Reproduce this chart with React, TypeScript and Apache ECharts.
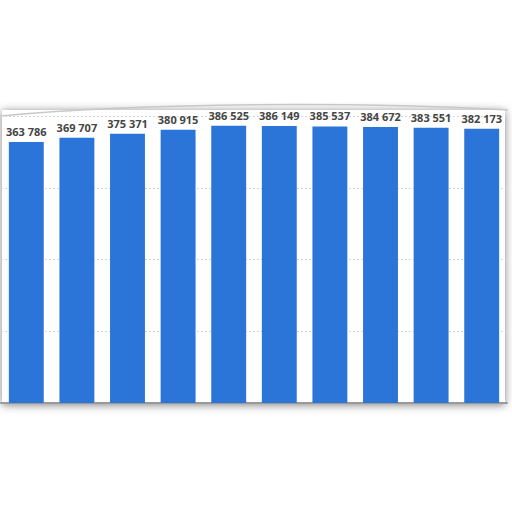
import * as echarts from 'echarts';
import React, { useEffect, useRef } from 'react';

const categories = ['1', '2', '3', '4', '5', '6', '7', '8', '9', '10'];
const values = [363786, 369707, 375371, 380915, 386525, 386149, 385537, 384672, 383551, 382173];
const yTicks = [0, 100000, 200000, 300000, 400000];

const fmt = (v: number) => String(v).replace(/\B(?=(\d{3})+(?!\d))/g, ' ');

const App: React.FC = () => {
  const chartRef = useRef<HTMLDivElement>(null);

  useEffect(() => {
    if (!chartRef.current) return;
    const chart = echarts.init(chartRef.current, undefined, { renderer: 'svg' });

    const option: echarts.EChartsOption = {
      animation: false,
      backgroundColor: '#fff',
      graphic: [
        {
          type: 'rect',
          z: -10,
          shape: { x: 2, y: 110, width: 503, height: 294 },
          style: { fill: '#fff', shadowBlur: 9, shadowColor: 'rgba(0,0,0,0.5)', shadowOffsetX: 0, shadowOffsetY: 1 },
        },
        {
          type: 'bezierCurve',
          z: -9,
          shape: { x1: 0, y1: 116, cpx1: 150, cpy1: 102, cpx2: 360, cpy2: 102, x2: 508, y2: 110 },
          style: { stroke: '#c8c8c8', lineWidth: 1.5, fill: 'none' },
        },
      ],
      grid: { left: 1, right: 5, top: 116, bottom: 109, containLabel: false },
      xAxis: {
        type: 'category',
        data: categories,
        axisLine: { show: true, lineStyle: { color: '#9a9a9a', width: 2 } },
        axisTick: { show: false },
        axisLabel: { show: false },
      },
      yAxis: {
        type: 'value',
        min: yTicks[0],
        max: yTicks[yTicks.length - 1],
        interval: 100000,
        axisLine: { show: false },
        axisTick: { show: false },
        axisLabel: { show: false },
        splitLine: { lineStyle: { color: '#d6d6d6', type: [2, 2], width: 1 } },
      },
      series: [
        {
          type: 'bar',
          data: values,
          barCategoryGap: '31%',
          itemStyle: { color: '#2b75d9' },
          label: {
            show: true,
            position: 'top',
            distance: 5,
            color: '#454545',
            fontSize: 11,
            fontWeight: 'bold',
            fontFamily: '"Open Sans", Arial, sans-serif',
            formatter: (p: any) => fmt(p.value),
          },
        },
      ],
    };

    chart.setOption(option);
    return () => chart.dispose();
  }, []);

  return (
    <div
      ref={chartRef}
      style={{ position: 'absolute', left: 0, top: 0, width: '512px', height: '512px' }}
    />
  );
};

export default App;
